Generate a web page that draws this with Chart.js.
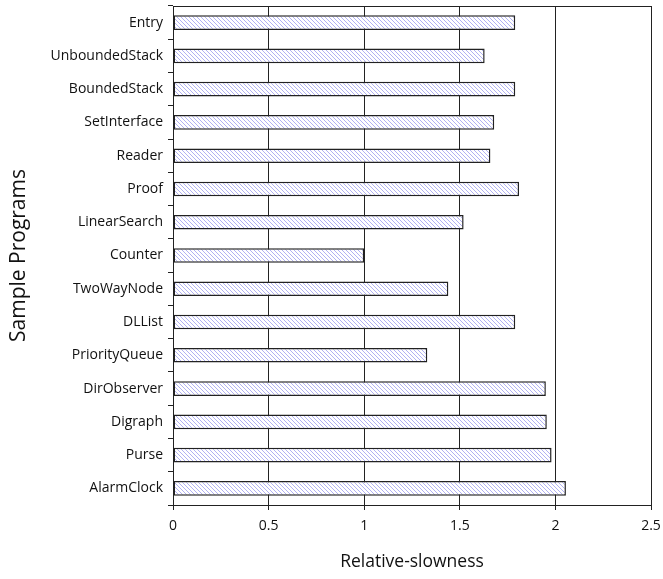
<!DOCTYPE html>
<html>
<head>
<meta charset="utf-8">
<script src="https://cdn.jsdelivr.net/npm/chart.js@4"></script>
<style>
  html, body { margin: 0; padding: 0; background: #fff; }
  canvas { display: block; }
</style>
</head>
<body>
<canvas id="chart" width="663" height="579"></canvas>
<script>
// programs, top to bottom
const programs = ["Entry", "UnboundedStack", "BoundedStack", "SetInterface", "Reader", "Proof",
  "LinearSearch", "Counter", "TwoWayNode", "DLList", "PriorityQueue", "DirObserver",
  "Digraph", "Purse", "AlarmClock"];
const slowness = [1.79, 1.63, 1.79, 1.68, 1.66, 1.81, 1.52, 1.00, 1.44, 1.79, 1.33, 1.95, 1.955, 1.98, 2.055];
const xTicks = [0, 0.5, 1, 1.5, 2, 2.5];

// diagonal hatch fill like the old office charts
function makeHatch() {
    const c = document.createElement("canvas");
    c.width = 4; c.height = 4;
    const g = c.getContext("2d");
    g.fillStyle = "#ffffff";
    g.fillRect(0, 0, 4, 4);
    g.fillStyle = "#b2b2f2";
    for (let y = 0; y < 4; y++) {
        for (let x = 0; x < 4; x++) {
            if ((x - y + 4) % 4 === 0) g.fillRect(x, y, 1, 1);
        }
    }
    return document.getElementById("chart").getContext("2d").createPattern(c, "repeat");
}

const frame = {
    id: "frame",
    afterDraw(chart) {
        const a = chart.chartArea, ctx = chart.ctx;
        ctx.save();
        ctx.strokeStyle = "#222";
        ctx.lineWidth = 1;
        ctx.beginPath();
        ctx.moveTo(a.left, a.top + 0.5);
        ctx.lineTo(a.right, a.top + 0.5);
        ctx.stroke();
        ctx.restore();
    }
};

const font = "'Open Sans', sans-serif";

new Chart(document.getElementById("chart").getContext("2d"), {
    type: "bar",
    data: {
        labels: programs,
        datasets: [{
            data: slowness,
            backgroundColor: makeHatch(),
            borderColor: "#222",
            borderWidth: 1.5,
            borderSkipped: false,
            barPercentage: 0.44,
            categoryPercentage: 1
        }]
    },
    options: {
        indexAxis: "y",
        responsive: false,
        animation: false,
        layout: { padding: { top: 6, right: 12, bottom: 4, left: 2 } },
        plugins: { legend: { display: false }, tooltip: { enabled: false } },
        scales: {
            x: {
                min: 0, max: 2.5,
                afterBuildTicks: s => { s.ticks = xTicks.map(v => ({ value: v })); },
                grid: { color: "#222", lineWidth: 1, tickLength: 5, drawTicks: true },
                border: { color: "#222", width: 1 },
                ticks: { color: "#111", font: { family: font, size: 14 }, padding: 8,
                         callback: v => String(v) },
                title: { display: true, text: "Relative-slowness", color: "#111",
                         font: { family: font, size: 17.5 }, padding: { top: 4, bottom: 2 } },
                afterFit: s => { s.height = 70; s.paddingLeft = 0; s.paddingRight = 0; }
            },
            y: {
                grid: { drawOnChartArea: false, color: "#222", tickLength: 5, offset: true },
                border: { color: "#222", width: 1 },
                ticks: { color: "#111", font: { family: font, size: 14 }, padding: 5, autoSkip: false },
                title: { display: true, text: "Sample Programs", color: "#111",
                         font: { family: font, size: 21 } },
                afterFit: s => { s.width = 171; s.paddingTop = 0; s.paddingBottom = 0; }
            }
        }
    },
    plugins: [frame]
});
</script>
</body>
</html>
